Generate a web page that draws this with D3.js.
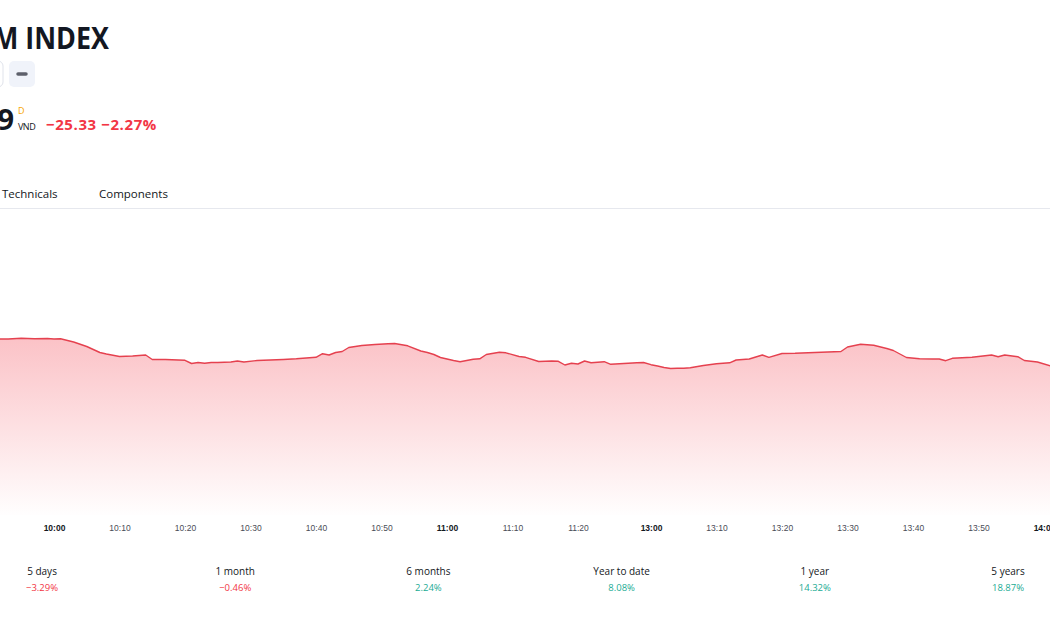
<!DOCTYPE html>
<html>

<head>
  <meta charset="utf-8">
  <title>M INDEX intraday</title>
  <style>
    body { margin: 0; background: #fff; overflow: hidden; }
    svg { display: block; font-family: "Open Sans", "Liberation Sans", sans-serif; }
  </style>
</head>

<body>
  <svg width="1050" height="630"></svg>
  <script src="https://d3js.org/d3.v7.min.js"></script>
  <script>
    // 1. data
    var times = [
      "9:51", "9:53", "9:55", "9:57", "9:59", "10:00", "10:01", "10:03", "10:05", "10:06",
      "10:07", "10:08", "10:10", "10:12", "10:14", "10:15", "10:17", "10:19", "10:20", "10:21",
      "10:22", "10:23", "10:24", "10:25", "10:27", "10:28", "10:29", "10:31", "10:33", "10:35",
      "10:37", "10:39", "10:40", "10:41", "10:42", "10:43", "10:44", "10:45", "10:47", "10:49",
      "10:51", "10:52", "10:54", "10:56", "10:57", "10:58", "10:59", "11:01", "11:02", "11:04",
      "11:05", "11:06", "11:08", "11:09", "11:11", "11:12", "11:14", "11:16", "11:17", "11:18",
      "11:19", "11:20", "11:21", "11:22", "11:24", "11:25", "11:27", "11:29", "11:30",
      "13:00", "13:01", "13:02", "13:03", "13:04", "13:05", "13:06", "13:08", "13:10", "13:12",
      "13:13", "13:15", "13:17", "13:18", "13:20", "13:22", "13:24", "13:26", "13:28", "13:29",
      "13:30", "13:32", "13:34", "13:36", "13:37", "13:39", "13:41", "13:43", "13:44", "13:45",
      "13:46", "13:49", "13:52", "13:53", "13:54", "13:56", "13:57", "13:59", "14:01"
    ];
    var prices = [
      1095.20, 1095.20, 1095.34, 1095.26, 1095.30, 1095.20, 1095.26, 1094.60, 1093.70, 1093.10,
      1092.50, 1092.20, 1091.70, 1091.80, 1092.00, 1091.10, 1091.10, 1091.00, 1090.94, 1090.30,
      1090.50, 1090.34, 1090.50, 1090.50, 1090.60, 1090.80, 1090.60, 1090.90, 1091.00, 1091.10,
      1091.24, 1091.46, 1091.54, 1092.26, 1092.00, 1092.50, 1092.70, 1093.50, 1093.90, 1094.10,
      1094.26, 1094.30, 1093.84, 1092.80, 1092.50, 1092.10, 1091.50, 1090.90, 1090.66, 1091.14,
      1091.24, 1092.10, 1092.56, 1092.44, 1091.70, 1091.54, 1090.70, 1090.80, 1090.74, 1090.00,
      1090.34, 1090.20, 1090.80, 1090.46, 1090.66, 1090.14, 1090.30, 1090.44, 1090.50,
      1090.06, 1089.80, 1089.50, 1089.30, 1089.34, 1089.34, 1089.46, 1089.90, 1090.24, 1090.44,
      1091.00, 1091.20, 1092.00, 1091.54, 1092.30, 1092.34, 1092.46, 1092.56, 1092.64, 1092.70,
      1093.60, 1094.14, 1093.94, 1093.30, 1092.90, 1091.50, 1091.24, 1091.20, 1091.20, 1090.86,
      1091.34, 1091.56, 1092.00, 1091.66, 1092.00, 1091.66, 1090.90, 1090.60, 1089.80
    ];
    var tickTimes = ["10:00", "10:10", "10:20", "10:30", "10:40", "10:50", "11:00", "11:10", "11:20",
      "13:00", "13:10", "13:20", "13:30", "13:40", "13:50", "14:00"];
    var periods = ["5 days", "1 month", "6 months", "Year to date", "1 year", "5 years"];
    var changes = [-3.29, -0.46, 2.24, 8.08, 14.32, 18.87];

    function toMin(s) {
      var p = s.split(":");
      return +p[0] * 60 + +p[1];
    }

    var data = times.map(function (t, i) { return { t: toMin(t), v: prices[i] }; });

    var svg = d3.select("svg");
    var red = "#f23645", green = "#22ab94", dark = "#131722";

    // 2. header
    svg.append("text").attr("x", -7).attr("y", 49)
      .attr("textLength", 116).attr("lengthAdjust", "spacingAndGlyphs")
      .attr("font-size", 31).attr("font-weight", 700).attr("fill", dark)
      .text("M INDEX");

    svg.append("rect").attr("x", -30).attr("y", 61).attr("width", 33).attr("height", 26)
      .attr("rx", 5).attr("fill", "#fff").attr("stroke", "#e0e3eb");
    svg.append("rect").attr("x", 9).attr("y", 61).attr("width", 26).attr("height", 26)
      .attr("rx", 5).attr("fill", "#f0f3fa");
    svg.append("line").attr("x1", 18).attr("x2", 26).attr("y1", 74).attr("y2", 74)
      .attr("stroke", "#5d606b").attr("stroke-width", 3.5).attr("stroke-linecap", "round");

    svg.append("text").attr("x", 14).attr("y", 130).attr("text-anchor", "end")
      .attr("font-size", 29).attr("font-weight", 700).attr("fill", dark).text("9");
    svg.append("text").attr("x", 18).attr("y", 114)
      .attr("font-size", 9).attr("fill", "#f7a600").text("D");
    svg.append("text").attr("x", 18).attr("y", 130).attr("letter-spacing", -0.5)
      .attr("font-size", 9).attr("fill", dark).text("VND");
    svg.append("text").attr("x", 46).attr("y", 130)
      .attr("font-size", 15).attr("font-weight", 700).attr("fill", red)
      .attr("letter-spacing", 0.6)
      .text("\u221225.33 \u22122.27%");

    svg.append("text").attr("x", 2).attr("y", 198)
      .attr("font-size", 11.5).attr("fill", dark).text("Technicals");
    svg.append("text").attr("x", 99).attr("y", 198)
      .attr("font-size", 11.5).attr("fill", dark).text("Components");
    svg.append("line").attr("x1", 0).attr("x2", 1050).attr("y1", 208.5).attr("y2", 208.5)
      .attr("stroke", "#e6e8ee");

    // 3. scales (lunch break squeezed)
    var x = d3.scaleLinear()
      .domain([toMin("10:00"), toMin("11:30"), toMin("13:00"), toMin("14:00")])
      .range([54, 643.5, 651, 1044]);
    var y = d3.scaleLinear().domain([1060, 1120]).range([515, 215]);

    var grad = svg.append("defs").append("linearGradient")
      .attr("id", "fill").attr("gradientUnits", "userSpaceOnUse")
      .attr("x1", 0).attr("x2", 0).attr("y1", 340).attr("y2", 518);
    grad.append("stop").attr("offset", 0).attr("stop-color", red).attr("stop-opacity", 0.3);
    grad.append("stop").attr("offset", 1).attr("stop-color", red).attr("stop-opacity", 0);

    var area = d3.area()
      .x(function (d) { return x(d.t); })
      .y0(y(1060))
      .y1(function (d) { return y(d.v); });
    var line = d3.line()
      .x(function (d) { return x(d.t); })
      .y(function (d) { return y(d.v); });

    svg.append("path").datum(data).attr("d", area).attr("fill", "url(#fill)");
    svg.append("path").datum(data).attr("d", line)
      .attr("fill", "none").attr("stroke", "#e5414f").attr("stroke-width", 1.4)
      .attr("stroke-linejoin", "round");

    // 4. time axis
    var axis = d3.axisBottom(x)
      .tickValues(tickTimes.map(toMin))
      .tickSize(0)
      .tickFormat(function (d, i) { return tickTimes[i]; });
    var ax = svg.append("g").attr("transform", "translate(0,522)").call(axis);
    ax.select(".domain").remove();
    ax.selectAll("text")
      .attr("font-family", "\"Liberation Sans\", sans-serif")
      .attr("font-size", 8.5)
      .attr("fill", function (d, i) { return tickTimes[i].slice(-2) === "00" ? "#131722" : "#4a4d57"; })
      .attr("font-weight", function (d, i) { return tickTimes[i].slice(-2) === "00" ? 700 : 400; });

    // 5. performance row
    var px = d3.scalePoint().domain(periods).range([42, 1008]);
    var cell = svg.append("g").selectAll("g").data(periods).enter().append("g")
      .attr("transform", function (d) { return "translate(" + px(d) + ",0)"; });
    cell.append("text").attr("y", 575).attr("text-anchor", "middle")
      .attr("font-size", 10).attr("fill", dark).text(function (d) { return d; });
    cell.append("text").attr("y", 591).attr("text-anchor", "middle")
      .attr("font-size", 9.5)
      .attr("fill", function (d, i) { return changes[i] < 0 ? red : green; })
      .text(function (d, i) { return (changes[i] < 0 ? "\u2212" : "") + Math.abs(changes[i]).toFixed(2) + "%"; });
  </script>
</body>

</html>
